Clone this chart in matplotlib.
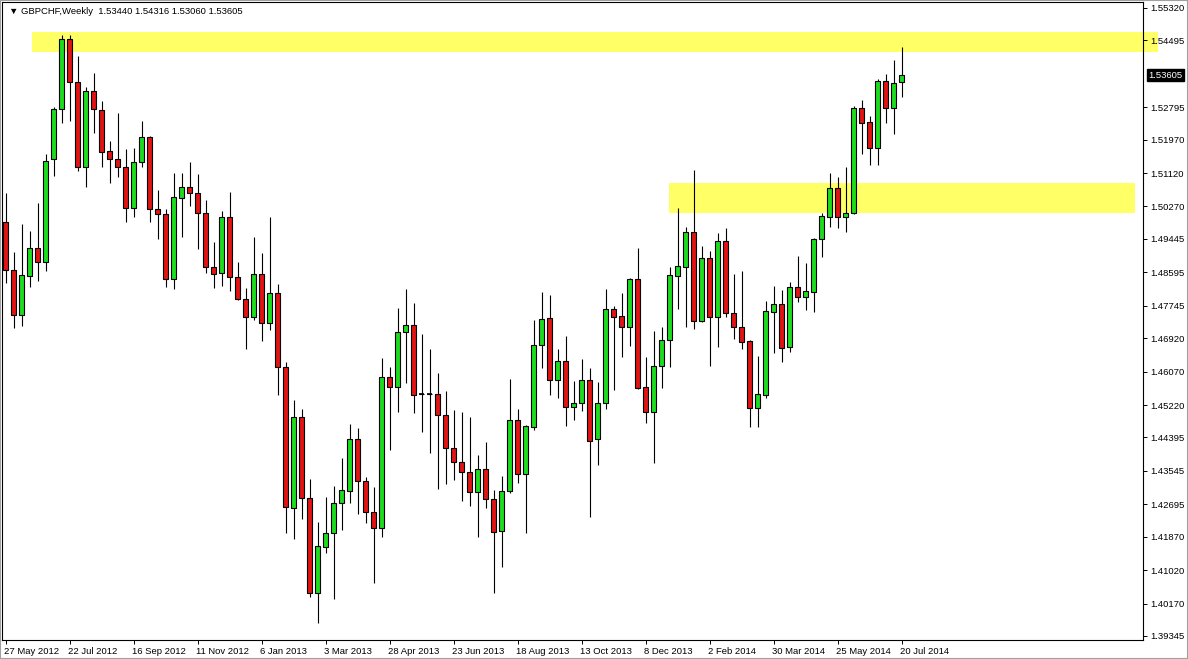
import matplotlib
matplotlib.use("Agg")
import matplotlib.pyplot as plt
import matplotlib.transforms as mtransforms
import numpy as np

# ---- data (weekly GBPCHF candles, 27 May 2012 .. 20 Jul 2014) ----
opens = [1.4988,1.4865,1.4751,1.4850,1.4921,1.4886,1.5148,1.5275,1.5453,1.5344,
         1.5128,1.5321,1.5273,1.5168,1.5148,1.5128,1.5023,1.5140,1.5204,1.5021,
         1.5008,1.4843,1.5049,1.5077,1.5061,1.5010,1.4873,1.4858,1.5000,1.4848,
         1.4792,1.4746,1.4855,1.4731,1.4807,1.4619,1.4260,1.4492,1.4285,1.4044,
         1.4161,1.4196,1.4273,1.4303,1.4436,1.4329,1.4250,1.4209,1.4593,1.4568,
         1.4708,1.4726,1.4549,1.4549,1.4550,1.4497,1.4413,1.4377,1.4352,1.4301,
         1.4359,1.4283,1.4201,1.4303,1.4484,1.4346,1.4466,1.4675,1.4743,1.4586,
         1.4634,1.4517,1.4527,1.4586,1.4436,1.4527,1.4766,1.4748,1.4720,1.4843,
         1.4568,1.4504,1.4621,1.4687,1.4850,1.4873,1.4962,1.4736,1.4896,1.4746,
         1.4939,1.4756,1.4720,1.4685,1.4514,1.4547,1.4759,1.4779,1.4670,1.4822,
         1.4797,1.4810,1.4944,1.5000,1.5074,1.5000,1.5010,1.5278,1.5242,1.5176,
         1.5346,1.5278,1.53440]
highs = [1.5061,1.4911,1.4982,1.4965,1.5036,1.5161,1.5280,1.5463,1.5463,1.5410,
         1.5331,1.5367,1.5295,1.5194,1.5265,1.5173,1.5176,1.5245,1.5206,1.5069,
         1.5021,1.5112,1.5112,1.5140,1.5110,1.5044,1.4937,1.5016,1.5064,1.4886,
         1.4820,1.4949,1.4909,1.5000,1.4830,1.4631,1.4535,1.4512,1.4334,1.4224,
         1.4288,1.4316,1.4387,1.4474,1.4464,1.4339,1.4313,1.4642,1.4619,1.4769,
         1.4817,1.4782,1.4703,1.4664,1.4603,1.4558,1.4509,1.4504,1.4492,1.4395,
         1.4428,1.4306,1.4341,1.4588,1.4512,1.4471,1.4738,1.4810,1.4802,1.4664,
         1.4698,1.4583,1.4639,1.4616,1.4581,1.4817,1.4774,1.4807,1.4845,1.4921,
         1.4644,1.4710,1.4720,1.4873,1.5023,1.4975,1.5120,1.4927,1.4914,1.4960,
         1.4972,1.4855,1.4863,1.4687,1.4647,1.4787,1.4825,1.4815,1.4835,1.4901,
         1.4883,1.4947,1.5010,1.5112,1.5102,1.5128,1.5283,1.5298,1.5257,1.5351,
         1.5364,1.5400,1.54316]
lows = [1.4832,1.4718,1.4723,1.4822,1.4837,1.4863,1.5105,1.5239,1.5245,1.5117,
        1.5077,1.5214,1.5128,1.5087,1.5102,1.4988,1.5000,1.5128,1.4988,1.4944,
        1.4822,1.4817,1.4949,1.5028,1.4919,1.4858,1.4820,1.4825,1.4812,1.4789,
        1.4664,1.4738,1.4685,1.4713,1.4547,1.4196,1.4181,1.4232,1.4034,1.3967,
        1.4146,1.4028,1.4204,1.4273,1.4245,1.4222,1.4069,1.4186,1.4408,1.4504,
        1.4578,1.4502,1.4453,1.4400,1.4308,1.4321,1.4331,1.4278,1.4265,1.4186,
        1.4260,1.4044,1.4110,1.4298,1.4324,1.4196,1.4458,1.4616,1.4547,1.4540,
        1.4469,1.4484,1.4507,1.4237,1.4369,1.4512,1.4560,1.4644,1.4672,1.4563,
        1.4476,1.4374,1.4565,1.4619,1.4766,1.4720,1.4715,1.4733,1.4621,1.4670,
        1.4746,1.4690,1.4664,1.4466,1.4466,1.4540,1.4654,1.4631,1.4657,1.4784,
        1.4764,1.4759,1.4899,1.4975,1.4972,1.4962,1.5008,1.5161,1.5133,1.5133,
        1.5239,1.5211,1.53060]
closes = [1.4865,1.4751,1.4853,1.4921,1.4886,1.5143,1.5275,1.5453,1.5344,1.5128,
          1.5321,1.5275,1.5166,1.5148,1.5128,1.5023,1.5140,1.5204,1.5021,1.5008,
          1.4843,1.5051,1.5077,1.5061,1.5010,1.4873,1.4855,1.5000,1.4848,1.4792,
          1.4746,1.4855,1.4731,1.4807,1.4619,1.4263,1.4492,1.4285,1.4044,1.4163,
          1.4196,1.4273,1.4306,1.4436,1.4329,1.4250,1.4209,1.4593,1.4568,1.4708,
          1.4726,1.4547,1.4549,1.4549,1.4497,1.4413,1.4377,1.4352,1.4301,1.4359,
          1.4283,1.4199,1.4303,1.4484,1.4346,1.4469,1.4675,1.4741,1.4586,1.4634,
          1.4517,1.4527,1.4586,1.4430,1.4527,1.4766,1.4746,1.4720,1.4843,1.4565,
          1.4504,1.4621,1.4687,1.4853,1.4876,1.4962,1.4736,1.4896,1.4746,1.4939,
          1.4756,1.4720,1.4682,1.4514,1.4550,1.4761,1.4779,1.4667,1.4822,1.4797,
          1.4812,1.4944,1.5003,1.5074,1.5000,1.5010,1.5278,1.5239,1.5176,1.5346,
          1.5278,1.5341,1.53605]

date_labels = ["27 May 2012", "22 Jul 2012", "16 Sep 2012", "11 Nov 2012", "6 Jan 2013",
               "3 Mar 2013", "28 Apr 2013", "23 Jun 2013", "18 Aug 2013", "13 Oct 2013",
               "8 Dec 2013", "2 Feb 2014", "30 Mar 2014", "25 May 2014", "20 Jul 2014"]
date_label_bars = [0, 8, 16, 24, 32, 40, 48, 56, 64, 72, 80, 88, 96, 104, 112]
price_ticks = ["1.55320", "1.54495", "1.52795", "1.51970", "1.51120", "1.50270", "1.49445",
               "1.48595", "1.47745", "1.46920", "1.46070", "1.45220", "1.44395", "1.43545",
               "1.42695", "1.41870", "1.41020", "1.40170", "1.39345"]
current_price = "1.53605"
header = "GBPCHF,Weekly  1.53440 1.54316 1.53060 1.53605"
# yellow supply/demand zones: (first bar, last bar, low price, high price)
zone_top = (3.3, 144.0, 1.5420, 1.5471)
zone_mid = (82.9, 141.2, 1.5010, 1.5087)

# ---- figure ----
W, H = 1188, 659
fig = plt.figure(figsize=(W / 100, H / 100), dpi=100)
plt.rcParams['font.family'] = ['Liberation Sans', 'DejaVu Sans']
ax = fig.add_axes([2 / W, 1 - 640 / H, 1141 / W, 638 / H])

o = np.array(opens); h = np.array(highs); l = np.array(lows); c = np.array(closes)
x = np.arange(len(o))

GREEN = '#1EDC1E'
RED = '#E01414'
YELLOW = '#FFFF66'

# zones
for (x0, x1, lo, hi) in (zone_top, zone_mid):
    ax.add_patch(plt.Rectangle((x0, lo), x1 - x0, hi - lo, facecolor=YELLOW,
                               edgecolor='none', zorder=0, clip_on=False))

# wicks
ax.vlines(x, l, h, color='black', linewidth=0.8, zorder=1)
# bodies
bull = c >= o
body_lo = np.minimum(o, c)
body_h = np.abs(c - o)
colors = np.where(c > o, GREEN, np.where(c < o, RED, 'black'))
ax.bar(x, body_h, bottom=body_lo, width=0.62, color=colors, edgecolor='black',
       linewidth=0.8, zorder=2)
# doji
doji = body_h < 1e-9
ax.hlines(o[doji], x[doji] - 0.35, x[doji] + 0.35, color='black', linewidth=1.2, zorder=3)

ax.set_xlim((2 - 5.5) / 8, (1143 - 5.5) / 8)
ax.set_ylim(1.39242, 1.55472)

# axes styling
for s in ax.spines.values():
    s.set_color('black')
    s.set_linewidth(0.8)

ax.yaxis.tick_right()
ax.set_yticks([float(v) for v in price_ticks])
ax.set_yticklabels(price_ticks)
ax.tick_params(axis='y', direction='out', length=3, width=0.7, pad=2, labelsize=6.8,
               colors='black')
ax.set_xticks(date_label_bars)
ax.set_xticklabels(date_labels, ha='left')
ax.tick_params(axis='x', direction='out', length=3, width=0.7, pad=2, labelsize=6.8,
               colors='black')
for lbl in ax.get_xticklabels():
    lbl.set_transform(lbl.get_transform() + mtransforms.ScaledTranslation(-2 / 100, 0, fig.dpi_scale_trans))

# current price box
ax.annotate(current_price, xy=(1.0, float(current_price)), xycoords=('axes fraction', 'data'),
            xytext=(4, 0), textcoords='offset points', ha='left', va='center',
            fontsize=6.8, color='white',
            bbox=dict(boxstyle='square,pad=0.15', facecolor='black', edgecolor='black'),
            annotation_clip=False)

# header
ax.text(7 / 1141, 1 - 10 / 638, "\u25BC " + header, transform=ax.transAxes,
        ha='left', va='center', fontsize=6.8, color='black',
        family=['Liberation Sans', 'DejaVu Sans'])

fig.patch.set_facecolor('white')
fig.add_artist(plt.Rectangle((0, 0), 1, 1, transform=fig.transFigure, fill=False,
                             edgecolor='#A0A0A0', linewidth=1.5))
fig.savefig("out.png", dpi=100)
